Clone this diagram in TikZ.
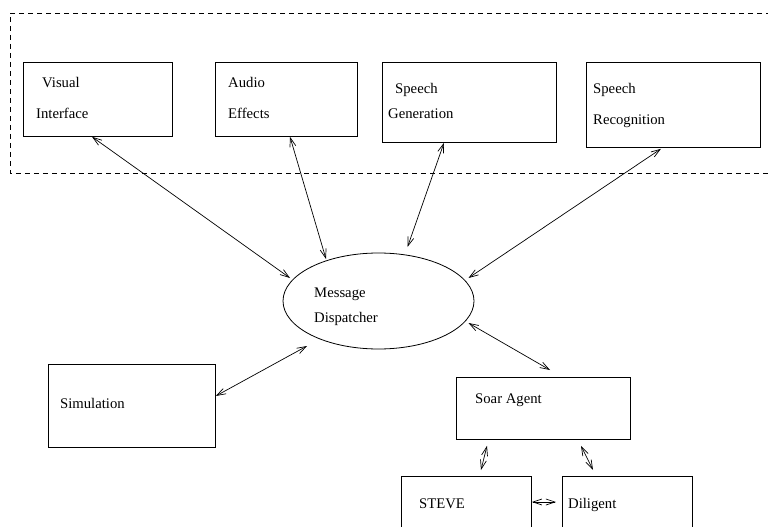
\documentclass[tikz,border=0pt]{standalone}
\usepackage{fontspec}
\setmainfont{Liberation Serif}
\usetikzlibrary{arrows.meta,calc,shapes.geometric}
\begin{document}
\begin{tikzpicture}[x=1pt,y=-1pt,
  box/.style={draw, line width=0.8pt, inner sep=0pt, anchor=north west},
  lbl/.style={anchor=base west, inner sep=0pt, font=\fontsize{14.7}{17}\selectfont},
  link/.style={line width=0.7pt,
    {Straight Barb[length=9pt,width=6pt]}-{Straight Barb[length=9pt,width=6pt]}},
  group/.style={dash pattern=on 5pt off 4pt, line width=0.7pt}]
\clip (0,0) rectangle (768,527);

% interface components, grouped by a dashed frame open to the right
\draw[group] (780,13) -- (10,13) -- (10,173) -- (780,173);

\node[box, minimum width=149pt, minimum height=74pt] (vis) at (23,62) {};
\node[box, minimum width=142pt, minimum height=74pt] (aud) at (215,62) {};
\node[box, minimum width=174pt, minimum height=80pt] (gen) at (382,62) {};
\node[box, minimum width=174pt, minimum height=85pt] (rec) at (586,62) {};

\node[lbl] (visA) at (42,87) {Visual};
\node[lbl] (visB) at (36,118) {Interface};
\node[lbl] (audA) at (228,87) {Audio};
\node[lbl] (audB) at (228,118) {Effects};
\node[lbl] (genA) at (395,93) {Speech};
\node[lbl] (genB) at (388,118) {Generation};
\node[lbl] (recA) at (593,93) {Speech};
\node[lbl] (recB) at (593,124) {Recognition};

% central dispatcher
\node[draw, ellipse, line width=0.8pt, inner sep=0pt,
      minimum width=191pt, minimum height=96pt] (disp) at (378.5,301) {};
\node[lbl] (dispA) at (314,297) {Message};
\node[lbl] (dispB) at (314,322) {Dispatcher};

% simulation and agent side
\node[box, minimum width=167pt, minimum height=83pt] (sim) at (48,364) {};
\node[box, minimum width=174pt, minimum height=62pt] (soar) at (456,377) {};
\node[box, minimum width=130pt, minimum height=80pt] (steve) at (401,476) {};
\node[box, minimum width=130pt, minimum height=80pt] (dil) at (562,476) {};

\node[lbl] (simT) at (60,408) {Simulation};
\node[lbl] (soarT) at (475,403) {Soar Agent};
\node[lbl] (steveT) at (419,508) {STEVE};
\node[lbl] (dilT) at (568,508) {Diligent};

% message links
\draw[link] ($(vis.south west)+(69,0)$) -- ($(disp.center)+(-88.5,-23)$);
\draw[link] ($(aud.south west)+(75,0)$) -- ($(disp.center)+(-52.5,-42)$);
\draw[link] ($(gen.south west)+(62,0)$) -- ($(disp.center)+(29,-54)$);
\draw[link] ($(rec.south west)+(75,1)$) -- ($(disp.center)+(90,-23)$);
\draw[link] ($(sim.north east)+(0,32)$) -- ($(disp.center)+(-71.5,45)$);
\draw[link] ($(disp.center)+(90,22)$) -- ($(soar.north west)+(94,-7)$);
\draw[link] ($(soar.south west)+(31,6)$) -- ($(steve.north west)+(80,-6)$);
\draw[link] ($(soar.south west)+(125,6)$) -- ($(dil.north west)+(31,-6)$);
\draw[link] ($(steve.north east)+(0,26)$) -- ($(dil.north west)+(-6,26)$);
\end{tikzpicture}
\end{document}
